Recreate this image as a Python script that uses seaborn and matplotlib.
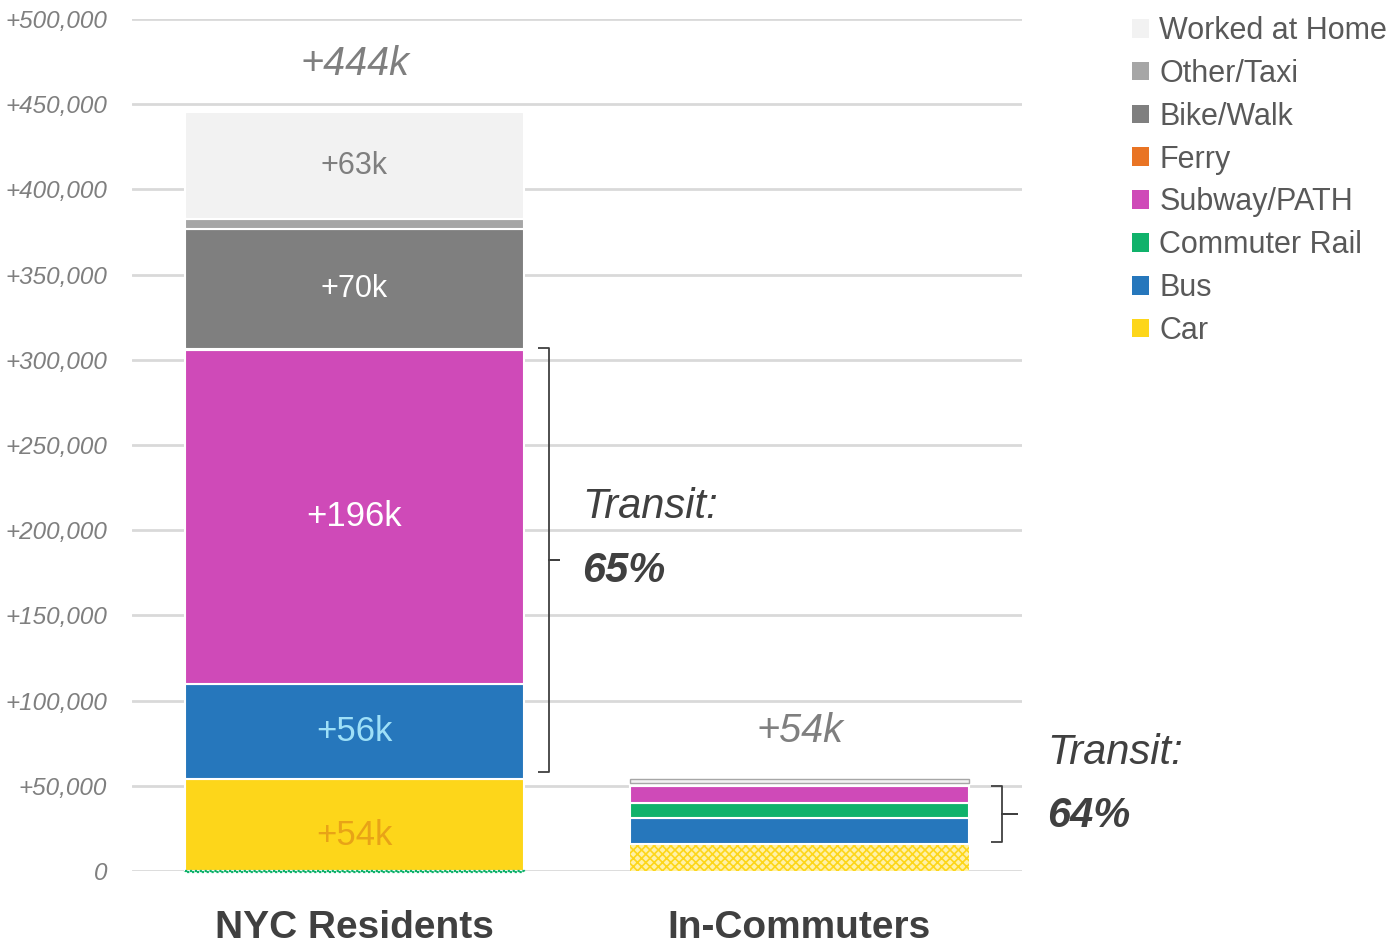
import matplotlib
matplotlib.use("Agg")
import matplotlib.pyplot as plt
from matplotlib.patches import Patch
import seaborn as sns
import numpy as np

# Change in commuters by mode, thousands of workers
groups = ["NYC Residents", "In-Commuters"]
modes = ["Car", "Bus", "Commuter Rail", "Subway/PATH", "Ferry",
         "Bike/Walk", "Other/Taxi", "Worked at Home"]
car = [54.0, 16.0]
bus = [55.8, 15.2]
commuter_rail = [-0.8, 8.8]
subway = [196.2, 10.0]
ferry = [0.5, 0.2]
bike_walk = [70.1, 0.9]
other_taxi = [6.0, 0.6]
worked_home = [62.6, 2.3]
transit_share = [65, 64]

series = [car, bus, commuter_rail, subway, ferry, bike_walk, other_taxi, worked_home]
colors = ["#FDD61A", "#2677BC", "#10B26B", "#CF4AB8", "#E97424",
          "#7F7F7F", "#A6A6A6", "#F2F2F2"]

# segment labels on the NYC Residents bar: mode index -> (colour, size, nudge)
seg_label_style = {0: ("#E8A317", 25, -6000), 1: ("#9EE0F8", 25, 0),
                   3: ("#FFFFFF", 25, 0), 5: ("#FFFFFF", 22, 0),
                   7: ("#7F7F7F", 22, 0)}

sns.set_theme(style="white")
plt.rcParams["font.family"] = ["Liberation Sans", "DejaVu Sans"]
plt.rcParams["hatch.linewidth"] = 1.2

fig = plt.figure(figsize=(13.92, 9.47), dpi=100)
ax = fig.add_axes([132 / 1392, 1 - 871 / 947, (1022 - 132) / 1392, (871 - 19) / 947])

BAR_W = 0.764
pos_base = np.zeros(len(groups))
neg_base = np.zeros(len(groups))
tops = []
for i, (vals, col) in enumerate(zip(series, colors)):
    v = np.array(vals, dtype=float) * 1000
    bottom = np.where(v >= 0, pos_base, neg_base)
    sns.barplot(x=groups, y=v, bottom=bottom, color=col, saturation=1,
                width=BAR_W, edgecolor="white", linewidth=1.5, ax=ax, zorder=3)
    pos_base = np.where(v >= 0, pos_base + v, pos_base)
    neg_base = np.where(v < 0, neg_base + v, neg_base)
    tops.append(pos_base.copy())
    if i in seg_label_style:
        tc, fs, dy = seg_label_style[i]
        ax.text(0, bottom[0] + v[0] / 2 + dy, f"+{vals[0]:.0f}k", ha="center",
                va="center", color=tc, fontsize=fs, zorder=5)

# checkered fill for the In-Commuters car segment
car_patch = ax.containers[0].patches[1]
car_patch.set_facecolor("#FFF1A8")
car_patch.set_edgecolor("#FDD61A")
car_patch.set_hatch("xxxx")
car_patch.set_linewidth(0)

# small commuter-rail loss below zero, drawn as a dotted strip
cr_patch = ax.containers[2].patches[0]
cr_patch.set_facecolor("none")
cr_patch.set_edgecolor("#10B26B")
cr_patch.set_linestyle((0, (1, 1.2)))
cr_patch.set_linewidth(1.6)
cr_patch.set_clip_on(False)

# thin outline at the top of the In-Commuters stack
home_patch = ax.containers[7].patches[1]
home_patch.set_edgecolor("#A6A6A6")
home_patch.set_linewidth(1.0)

# net totals above each bar
totals = np.sum(np.array(series), axis=0)
for g in range(len(groups)):
    ax.annotate(f"+{totals[g]:.0f}k", (g, pos_base[g]), xytext=(0, 21),
                textcoords="offset points", ha="center", va="bottom",
                fontsize=28.5, style="italic", color="#7F7F7F", zorder=5)


def brace(ax, x, lo, hi, w_hook, w_tip):
    mid = (lo + hi) / 2
    kw = dict(color="#404040", lw=1.3, zorder=4, clip_on=False, solid_capstyle="butt")
    ax.plot([x - w_hook, x, x, x + w_tip, x, x, x - w_hook],
            [hi, hi, mid, mid, mid, lo, lo], **kw)


# transit braces span bus through subway
brace_layout = [  # x of brace, x of text, text offsets from brace middle
    (0.438, 0.512, 31000, -6700, 4000, 1000, 0.022),
    (1.456, 1.557, 36000, -1200, 1000, 0, 0.033),
]
for g, (x_br, x_txt, dy_t, dy_p, pad_lo, pad_hi, tip) in enumerate(brace_layout):
    lo = tops[0][g] + pad_lo
    hi = tops[3][g] + pad_hi
    brace(ax, x_br, lo, hi, 0.025, tip)
    mid = (lo + hi) / 2
    ax.text(x_txt, mid + dy_t, "Transit:", fontsize=30, style="italic",
            color="#404040", ha="left", va="center", clip_on=False)
    ax.text(x_txt, mid + dy_p, f"{transit_share[g]}%", fontsize=30,
            style="italic", weight="bold", color="#404040", ha="left",
            va="center", clip_on=False)

ax.set_xlim(-0.5, 1.5)
ax.set_ylim(0, 500000)
yt = np.arange(0, 500001, 50000)
ax.set_yticks(yt)
ax.set_yticklabels(["0" if t == 0 else f"+{t:,}" for t in yt],
                   fontsize=17.5, style="italic", color="#7F7F7F")
ax.tick_params(axis="y", length=0, pad=18)
ax.tick_params(axis="x", length=0, pad=28)
ax.set_xticks(range(len(groups)))
ax.set_xticklabels(groups, fontsize=28, weight="bold", color="#404040")
ax.set_xlabel("")
ax.set_ylabel("")
ax.grid(axis="y", color="#D9D9D9", lw=2, zorder=0)
ax.grid(axis="x", visible=False)
for s in ax.spines.values():
    s.set_visible(False)

handles = [Patch(facecolor=c, edgecolor="none") for c in colors][::-1]
leg = fig.legend(handles, modes[::-1], loc="upper left",
                 bbox_to_anchor=(1132 / 1392, 1 - 16 / 947), frameon=False,
                 fontsize=22, handlelength=0.56, handleheight=0.56,
                 handletextpad=0.33, labelspacing=0.42, borderaxespad=0,
                 borderpad=0)
for t in leg.get_texts():
    t.set_color("#595959")

fig.savefig("out.png", dpi=100)
